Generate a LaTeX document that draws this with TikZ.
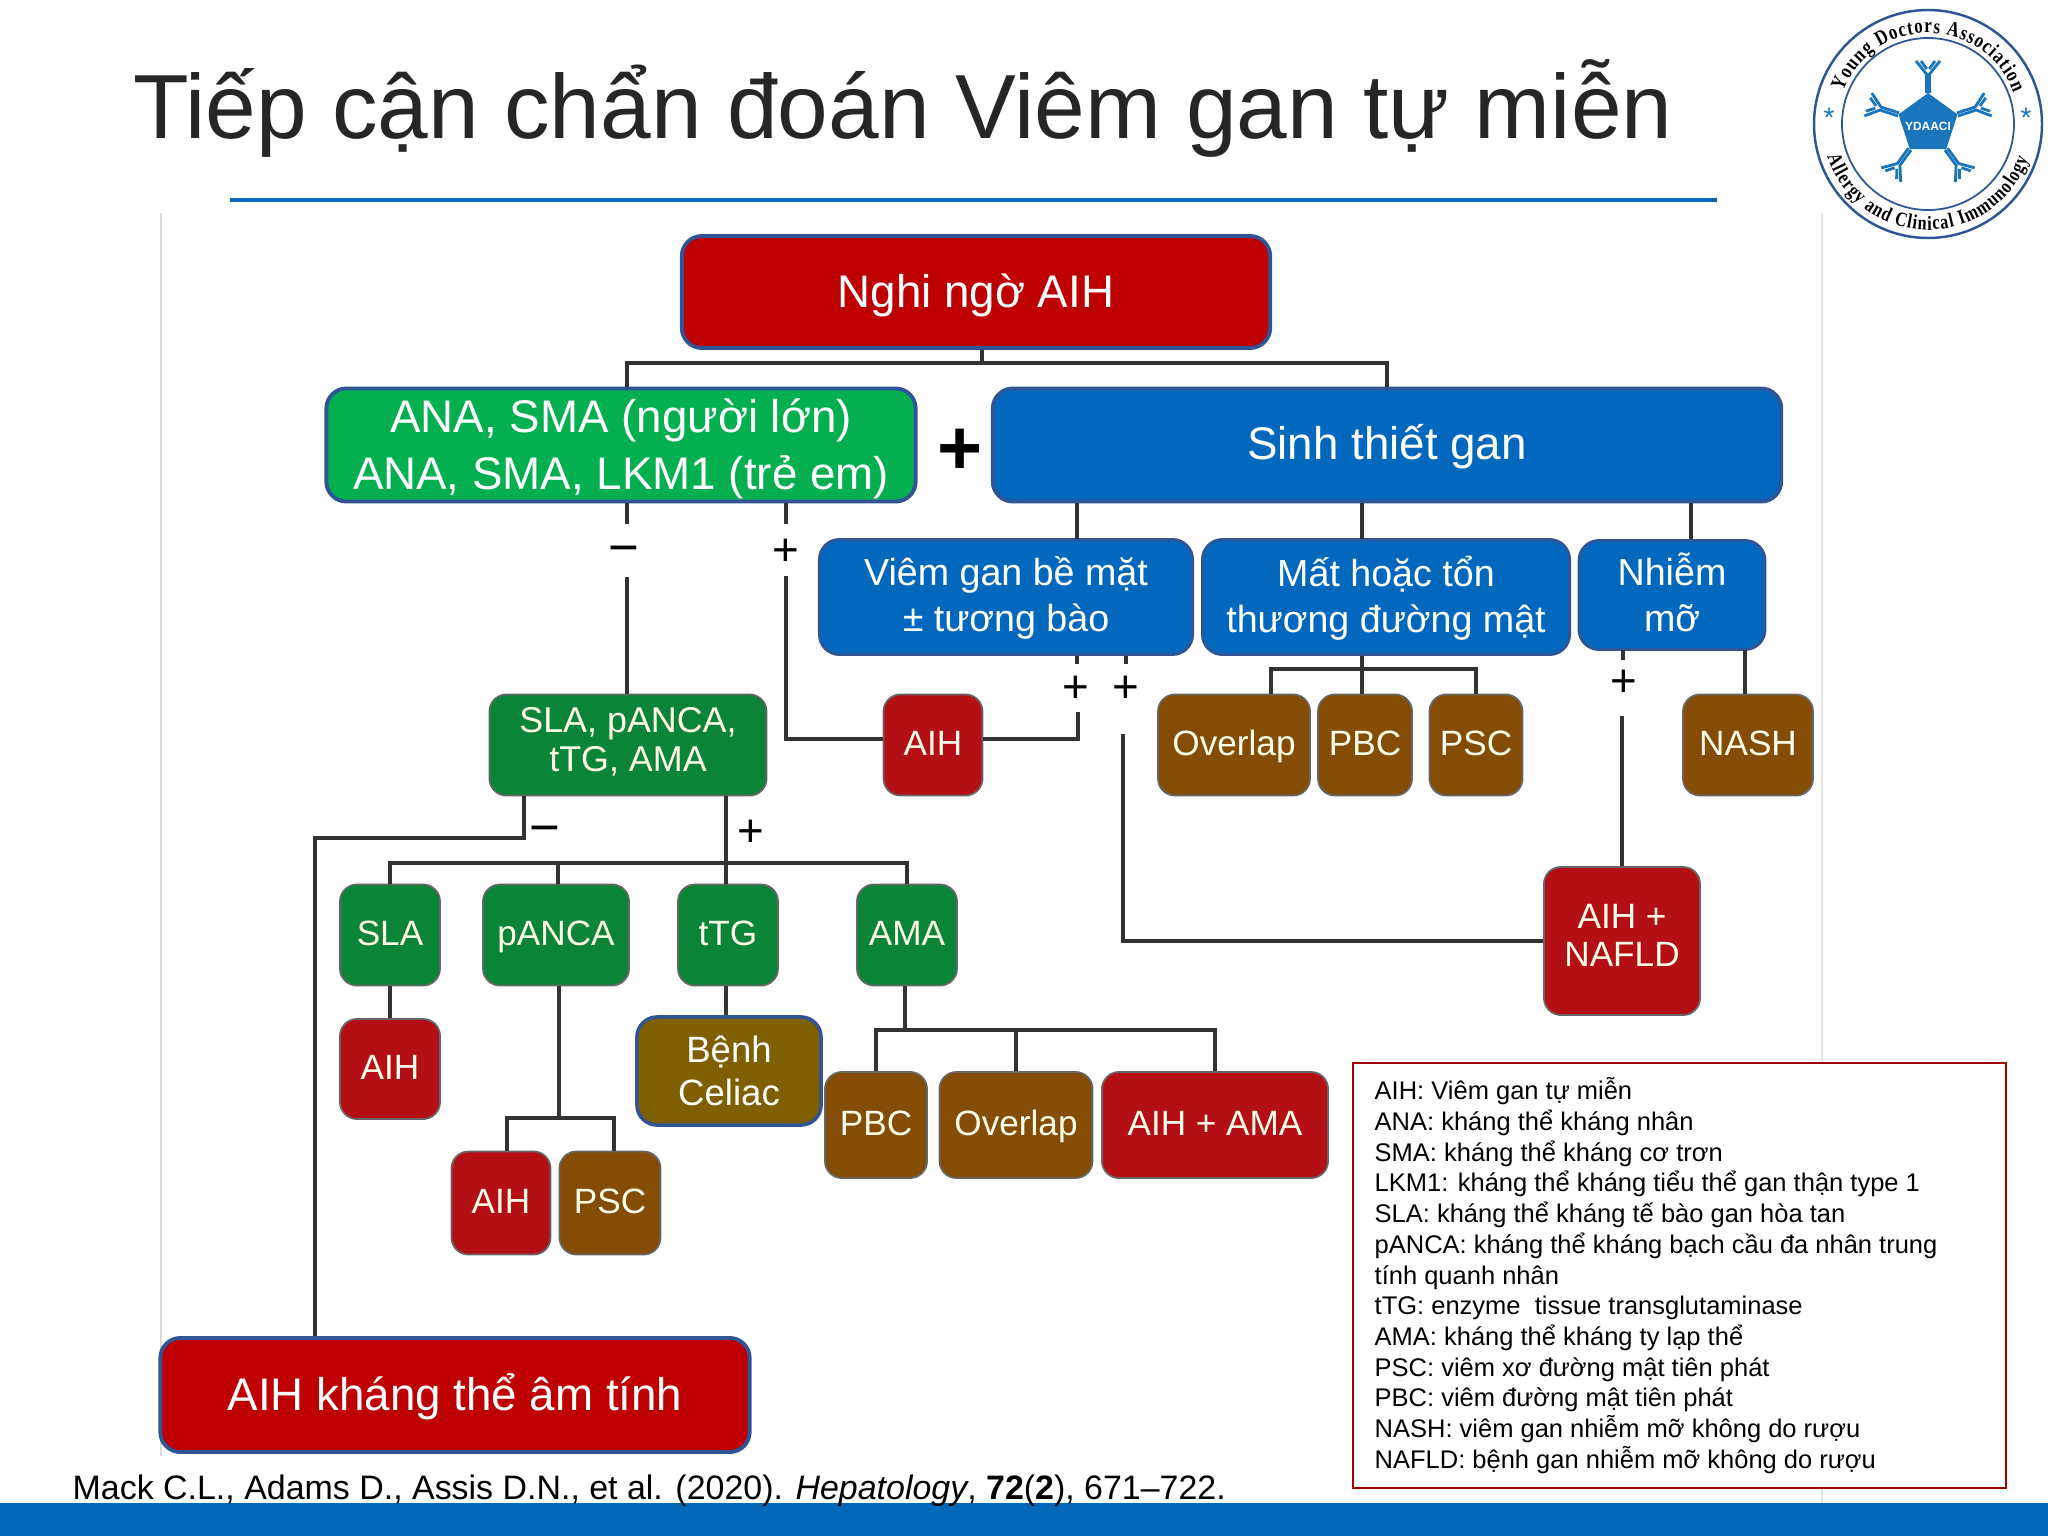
\documentclass[tikz,border=0pt]{standalone}
\usepackage{fontspec}
\setmainfont{Liberation Sans}
\newfontfamily\logofont[FakeStretch=0.8]{Liberation Serif}
\usetikzlibrary{decorations.text, shapes.geometric}

\definecolor{barblue}{HTML}{0468B8}
\definecolor{boxblue}{HTML}{0268BD}
\definecolor{edgeblue}{HTML}{2F5597}
\definecolor{bigred}{HTML}{BE0000}
\definecolor{leafred}{HTML}{B50F16}
\definecolor{bigreen}{HTML}{04AF50}
\definecolor{leafgreen}{HTML}{0A8437}
\definecolor{leafbrown}{HTML}{844C04}
\definecolor{olive}{HTML}{7F6000}
\definecolor{logoblue}{HTML}{1B75BC}

\newcommand{\lowered}[2]{\raisebox{-#1}[\height][\depth]{#2}}

\tikzset{
  bigbox/.style={draw=edgeblue, line width=1.1pt, rounded corners=0.2cm, text=white, align=center, inner sep=0pt},
  midbox/.style={draw=edgeblue, line width=0.8pt, fill=boxblue, rounded corners=0.2cm, text=white, align=center, inner sep=0pt,
    font=\fontsize{10.7}{12.9}\selectfont},
  leaf/.style={draw=black!60, line width=0.5pt, rounded corners=0.17cm, text=white!92!yellow, align=center, inner sep=0pt,
    font=\fontsize{10}{10.9}\selectfont, execute at begin node={\rule[-3.27pt]{0pt}{12.4pt}}},
  conn/.style={line width=0.9pt, draw=black!80},
  sign/.style={inner sep=0pt, font=\fontsize{13}{14}\selectfont},
  minussign/.style={inner sep=0pt, font=\fontsize{15}{16}\selectfont},
  abline/.style={draw=logoblue, line width=0.8pt}
}

\begin{document}
\begin{tikzpicture}[x=0.01cm, y=-0.01cm]

  \useasboundingbox (0,0) rectangle (2048,1536);
  \fill[white] (0,0) rectangle (2048,1536);

  % edges of the pasted figure
  \draw[black!15, line width=0.5pt] (161,213) -- (161,1456);
  \draw[black!10, line width=0.5pt] (1822,213) -- (1822,1503);

  \fill[barblue] (0,1503) rectangle (2048,1536);
  \draw[barblue, line width=1pt] (230,200) -- (1717,200);

  \node[text=black!85, inner sep=0pt, font=\fontsize{25.9}{30}\selectfont] (title) at (903,108) {Tiếp cận chẩn đoán Viêm gan tự miễn};

  % main boxes
  \node[bigbox, fill=bigred, minimum width=5.88cm, minimum height=1.12cm, font=\fontsize{13}{15}\selectfont] (nghi) at (976,292) {\lowered{1.1pt}{Nghi ngờ AIH}};
  \node[bigbox, fill=bigreen, minimum width=5.89cm, minimum height=1.13cm, font=\fontsize{13}{16.4}\selectfont] (ana) at (621,445) {\lowered{1.1pt}{ANA, SMA (người lớn)}\\\lowered{1.1pt}{ANA, SMA, LKM1 (trẻ em)}};
  \node[bigbox, fill=boxblue, minimum width=7.88cm, minimum height=1.13cm, font=\fontsize{13}{15}\selectfont] (sinh) at (1387,445) {\lowered{0.6pt}{Sinh thiết gan}};
  \node[bigbox, fill=bigred, minimum width=5.89cm, minimum height=1.14cm, font=\fontsize{13}{15}\selectfont] (amtinh) at (455,1395) {\lowered{0.6pt}{AIH kháng thể âm tính}};
  \node[inner sep=0pt, font=\fontsize{22}{24}\bfseries\selectfont] (cong) at (960,452) {+};

  \node[midbox, minimum width=3.73cm, minimum height=1.15cm] (beMat) at (1006,597) {\lowered{0.3pt}{Viêm gan bề mặt}\\\lowered{0.3pt}{± tương bào}};
  \node[midbox, minimum width=3.67cm, minimum height=1.15cm] (duongMat) at (1386,597) {\lowered{0.3pt}{Mất hoặc tổn}\\\lowered{0.3pt}{thương đường mật}};
  \node[midbox, minimum width=1.86cm, minimum height=1.09cm] (nhiemMo) at (1672,595) {\lowered{-0.8pt}{Nhiễm}\\\lowered{-0.8pt}{mỡ}};

  % leaves in rows
  \node[leaf, fill=leafgreen, minimum width=2.77cm, minimum height=1.01cm, font=\fontsize{10.2}{11.1}\selectfont] (screen) at (628,745) {SLA, pANCA,\\tTG, AMA};
  \node[leaf, fill=leafred, minimum width=0.99cm, minimum height=1.01cm] (aihTop) at (933,745) {AIH};
  \foreach \name/\cx/\w/\lbl in {ovTop/1234/1.52/Overlap, pbcTop/1365/0.94/PBC, pscTop/1476/0.93/PSC, nash/1748/1.30/NASH} {
    \node[leaf, fill=leafbrown, minimum width=\w cm, minimum height=1.01cm] (\name) at (\cx,745) {\lbl};
  }
  \foreach \name/\cx/\w/\lbl in {sla/390/1.00/SLA, panca/556/1.46/pANCA, ttg/728/1.00/tTG, ama/907/1.00/AMA} {
    \node[leaf, fill=leafgreen, minimum width=\w cm, minimum height=1.01cm] (\name) at (\cx,935) {\lbl};
  }
  \node[leaf, fill=leafred, minimum width=1.56cm, minimum height=1.48cm] (nafld) at (1622,941) {AIH +\\NAFLD};
  \node[leaf, fill=leafred, minimum width=1.00cm, minimum height=1.00cm] (aihSla) at (390,1069) {AIH};
  \node[leaf, fill=leafred, minimum width=0.99cm, minimum height=1.03cm] (aihPanca) at (501,1203) {AIH};
  \node[leaf, fill=leafbrown, minimum width=1.01cm, minimum height=1.03cm] (pscPanca) at (610,1203) {PSC};
  \node[bigbox, fill=olive, line width=1pt, minimum width=1.84cm, minimum height=1.08cm, font=\fontsize{10.4}{12.3}\selectfont] (celiac) at (729,1071) {Bệnh\\Celiac};
  \node[leaf, fill=leafbrown, minimum width=1.02cm, minimum height=1.06cm] (pbcAma) at (876,1125) {PBC};
  \node[leaf, fill=leafbrown, minimum width=1.53cm, minimum height=1.06cm] (ovAma) at (1016,1125) {Overlap};
  \node[leaf, fill=leafred, minimum width=2.26cm, minimum height=1.06cm] (aihAma) at (1215,1125) {AIH + AMA};

  % signs
  \node[minussign] (minusAna) at (624,556) {−};
  \node[sign] (plusAna) at (786,552) {+};
  \node[sign] (plusBe) at (1076,689) {+};
  \node[sign] (plusNafld) at (1126,689) {+};
  \node[sign] (plusMo) at (1624,683) {+};
  \node[minussign] (minusScr) at (545,836) {−};
  \node[sign] (plusScr) at (751,833) {+};

  % junctions
  \coordinate (busTop) at (982,363);
  \coordinate (x1) at (627,524);
  \coordinate (x2) at (786,524);
  \coordinate (x3) at (1077,539);
  \coordinate (x4) at (1362,539);
  \coordinate (x5) at (1691,539);
  \coordinate (busDuong) at (1362,669);
  \coordinate (busScr) at (726,863);
  \coordinate (neg) at (524,838);
  \coordinate (negDown) at (315,838);
  \coordinate (busPanca) at (559,1118);
  \coordinate (busAma) at (905,1030);

  \draw[conn] (nghi.south -| busTop) -- (busTop);
  \draw[conn] (x1 |- ana.north) |- (busTop) -| (sinh.north);

  \draw[conn] (x1 |- ana.south) -- (x1);
  \draw[conn] (x1 |- 0,577) -- (x1 |- screen.north);
  \draw[conn] (x2 |- ana.south) -- (x2);
  \draw[conn] (786,576) |- ([yshift=0.06cm]aihTop.west);

  \draw[conn] (x3 |- sinh.south) -- (x3);
  \draw[conn] (x4 |- sinh.south) -- (x4);
  \draw[conn] (x5 |- sinh.south) -- (x5);

  \draw[conn] (x3 |- beMat.south) -- +(0,8);
  \draw[conn] (1078,712) |- ([yshift=0.06cm]aihTop.east);
  \draw[conn] (1126,656) -- (1126,664);
  \draw[conn] (1123,734) |- (nafld.west);

  \draw[conn] (x4 |- duongMat.south) -- (busDuong);
  \draw[conn] (ovTop.north -| 1271,0) |- (busDuong) -| (pscTop.north);
  \draw[conn] (busDuong) -- (pbcTop.north -| busDuong);

  \draw[conn] (1623,650) -- (1623,660);
  \draw[conn] (1622,716) -- (nafld.north);
  \draw[conn] (1745,650) -- (nash.north -| 1745,0);

  \draw[conn] (neg |- screen.south) -- (neg) -- (negDown) -- (negDown |- amtinh.north);
  \draw[conn] (busScr |- screen.south) -- (busScr |- ttg.north);
  \draw[conn] (sla.north) |- (busScr) -| (ama.north);
  \draw[conn] (panca.north -| 558,0) -- (558,863);
  \draw[conn] (sla.south) -- (aihSla.north);
  \draw[conn] (busScr |- ttg.south) -- (busScr |- celiac.north);

  \draw[conn] (busPanca |- panca.south) -- (busPanca);
  \draw[conn] (aihPanca.north -| 507,0) |- (busPanca) -| (pscPanca.north -| 614,0);

  \draw[conn] (busAma |- ama.south) -- (busAma);
  \draw[conn] (pbcAma.north) |- (busAma) -| (aihAma.north);
  \draw[conn] (ovAma.north) -- (ovAma.north |- busAma);

  % legend
  \node[draw=bigred!85!black, line width=0.7pt, fill=white, minimum width=6.53cm, minimum height=4.25cm, inner sep=0pt] (legendBox) at (1679.5,1275.5) {};
  \node[anchor=north west, align=left, inner sep=0pt, font=\fontsize{7.25}{8.73}\selectfont] (legendText) at (1374,1077) {AIH: Viêm gan tự miễn\\
    ANA: kháng thể kháng nhân\\
    SMA: kháng thể kháng cơ trơn\\
    LKM1: kháng thể kháng tiểu thể gan thận type 1\\
    SLA: kháng thể kháng tế bào gan hòa tan\\
    pANCA: kháng thể kháng bạch cầu đa nhân trung\\
    tính quanh nhân\\
    tTG: enzyme\ \ tissue transglutaminase\\
    AMA: kháng thể kháng ty lạp thể\\
    PSC: viêm xơ đường mật tiên phát\\
    PBC: viêm đường mật tiên phát\\
    NASH: viêm gan nhiễm mỡ không do rượu\\
    NAFLD: bệnh gan nhiễm mỡ không do rượu};

  \node[anchor=west, inner sep=0pt, font=\fontsize{9.65}{11}\selectfont] (cite) at (72,1491) {Mack C.L., Adams D., Assis D.N., et al. (2020). \textit{Hepatology}, \textbf{72}(\textbf{2}), 671–722.};

  % logo
  \begin{scope}[shift={(1928,124)}, y=0.01cm]
    \draw[edgeblue, line width=0.7pt] (0,0) circle (114);
    \draw[edgeblue, line width=0.5pt] (0,0) circle (86);
    \node[regular polygon, regular polygon sides=5, fill=logoblue, minimum size=0.62cm, inner sep=0pt] (penta) at (0,0) {};
    \node[text=white, inner sep=0pt, font=\fontsize{3.4}{4}\bfseries\selectfont] (ydaaci) at (0,-2) {YDAACI};
    \foreach \a in {0,72,144,216,288} {
      \begin{scope}[rotate=\a]
        \draw[abline] (-1.6,31) -- (-1.6,50) -- (-12,63);
        \draw[abline] (1.6,31) -- (1.6,50) -- (12,63);
        \draw[abline] (-1.2,55) -- (-7,63);
        \draw[abline] (1.2,55) -- (7,63);
      \end{scope}
    }
    \node[text=logoblue, inner sep=0pt, font=\fontsize{8}{8}\selectfont] (starL) at (-99,6) {*};
    \node[text=logoblue, inner sep=0pt, font=\fontsize{8}{8}\selectfont] (starR) at (98,6) {*};
    \path[decorate, decoration={text along path, text align={fit to path}, text={|\logofont\bfseries\fontsize{6}{7}\selectfont|Young Doctors Association}}]
      (159:91) arc[start angle=159, end angle=20, radius=91];
    \path[decorate, decoration={text along path, text align={fit to path}, text={|\logofont\bfseries\fontsize{5.8}{7}\selectfont|Allergy and Clinical Immunology}}]
      (198:106) arc[start angle=198, end angle=341, radius=106];
  \end{scope}

\end{tikzpicture}
\end{document}
